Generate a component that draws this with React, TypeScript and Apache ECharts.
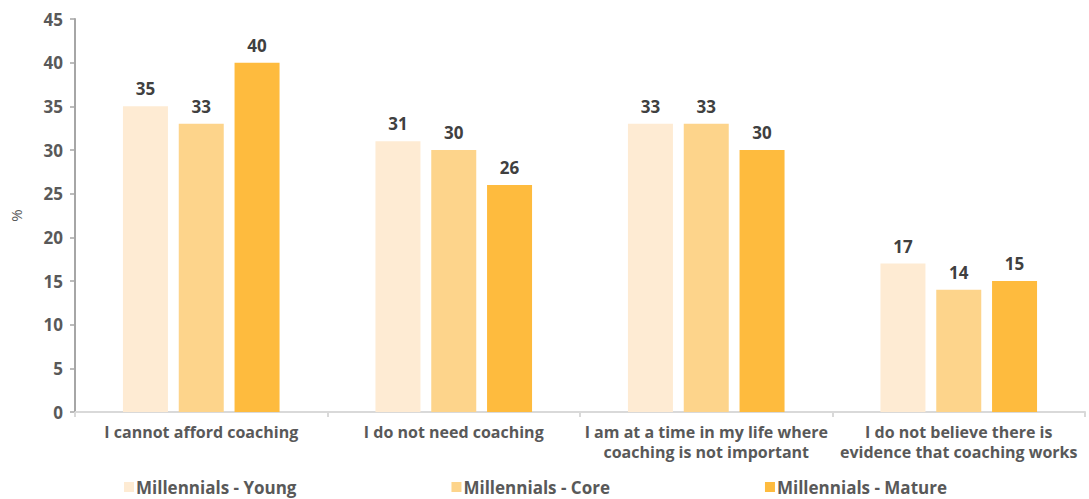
import React, { useEffect, useRef } from "react";
import * as echarts from "echarts";

const categories = [
  "I cannot afford coaching",
  "I do not need coaching",
  "I am at a time in my life where\ncoaching is not important",
  "I do not believe there is\nevidence that coaching works",
];
const seriesNames = ["Millennials - Young", "Millennials - Core", "Millennials - Mature"];
const young = [35, 31, 33, 17];
const core = [33, 30, 33, 14];
const mature = [40, 26, 30, 15];
const colors = ["#FEEBD3", "#FDD48B", "#FEBB3E"];

const FONT = "'Open Sans', Lato, sans-serif";

export default function App() {
  const ref = useRef<HTMLDivElement>(null);
  useEffect(() => {
    if (!ref.current) return;
    const chart = echarts.init(ref.current, null, { renderer: "svg" });
    const datasets = [young, core, mature];
    chart.setOption({
      animation: false,
      textStyle: { fontFamily: FONT },
      grid: { left: 70, right: 4, top: 19, bottom: 87, containLabel: false },
      legend: {
        data: seriesNames,
        left: 124,
        top: 478,
        padding: 0,
        itemWidth: 10,
        itemHeight: 10,
        itemGap: 155,
        icon: "rect",
        textStyle: { fontFamily: FONT, fontWeight: "bold", fontSize: 17, lineHeight: 18, color: "#595959", padding: [0, 0, 0, -3] },
      },
      xAxis: {
        type: "category",
        data: categories,
        axisLine: { lineStyle: { color: "#D9D9D9", width: 2 } },
        axisTick: { show: true, length: 5, lineStyle: { color: "#D9D9D9", width: 2 } },
        axisLabel: {
          interval: 0,
          fontFamily: FONT,
          fontWeight: "bold",
          fontSize: 16,
          color: "#595959",
          lineHeight: 20,
          margin: 10,
        },
      },
      yAxis: {
        type: "value",
        min: 0,
        max: 45,
        interval: 5,
        name: "%",
        nameLocation: "middle",
        nameGap: 52,
        nameTextStyle: { fontFamily: FONT, fontSize: 15, color: "#595959" },
        splitLine: { show: false },
        axisLine: { show: true, lineStyle: { color: "#A6A6A6", width: 2 } },
        axisTick: { show: true, length: 5, lineStyle: { color: "#A6A6A6", width: 1.5 } },
        axisLabel: { fontFamily: FONT, fontWeight: "bold", fontSize: 17, color: "#595959", margin: 12 },
      },
      series: seriesNames.map((name, i) => ({
        name,
        type: "bar",
        data: datasets[i],
        barWidth: 45,
        barGap: "24%",
        itemStyle: { color: colors[i] },
        label: {
          show: true,
          position: "top",
          distance: 9,
          fontFamily: FONT,
          fontWeight: "bold",
          fontSize: 17,
          color: "#404040",
        },
      })),
    });
    return () => chart.dispose();
  }, []);
  return <div ref={ref} style={{ width: 1089, height: 499, position: "absolute", left: 0, top: 0 }} />;
}
